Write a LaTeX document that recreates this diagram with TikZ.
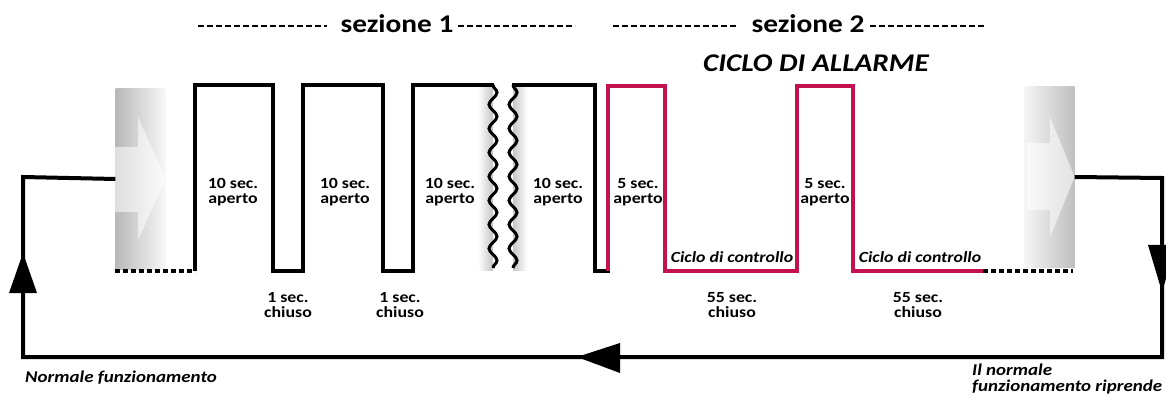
\documentclass[tikz,border=0pt]{standalone}
\usepackage{fontspec}
\setmainfont{Carlito}[FakeStretch=1.15]
\usepackage{tikz}
\usetikzlibrary{decorations.pathmorphing}
\definecolor{allarme}{RGB}{196,18,80}

\begin{document}
\begin{tikzpicture}[
    x=1pt, y=-1pt,
    onda/.style={line width=4pt, line join=miter},
    tratteggio/.style={line width=4pt, dash pattern=on 5pt off 3pt},
    intest/.style={line width=2.5pt, dash pattern=on 6pt off 3pt},
    lbl/.style={font=\fontsize{15.5}{15}\selectfont\bfseries, align=center, inner sep=0pt},
    head/.style={font=\fontsize{25.5}{28}\selectfont\bfseries, inner sep=0pt},
    nota/.style={font=\fontsize{16.5}{16}\selectfont\bfseries\itshape, inner sep=0pt, align=left},
    gradbox/.style={minimum width=50pt, minimum height=180pt, inner sep=0pt},
    rottura/.style={line width=3pt, decorate,
        decoration={snake, segment length=24pt, amplitude=4pt}}
]
\useasboundingbox (0,0) rectangle (1166,403);

% Blocchi sfumati con freccia
\node[gradbox, shade, left color=gray!55, right color=gray!6] (gl) at (140.5,179) {};
\node[gradbox, shade, left color=gray!8, right color=gray!50] (gr) at (1049.5,177) {};
\fill[white, opacity=.55] (115,147) -- (138,147) -- (138,117) -- (gl.east) -- (138,240) -- (138,212) -- (115,212) -- cycle;
\fill[white, opacity=.55] (1027,143) -- (1050,143) -- (1050,117) -- (gr.east) -- (1050,237) -- (1050,210) -- (1027,210) -- cycle;

% Ciclo esterno
\coordinate (rs) at (1162,178);
\coordinate (rb) at (1162,357);
\coordinate (lb) at (23,357);
\coordinate (ls) at (23,177);
\draw[line width=4pt, line join=miter] (gr.east) -- (rs) -- (rb) -- (lb) -- (ls) -- (gl.west);
\fill (23,253) -- (37,293) -- (9,293) -- cycle;
\fill (1162,292) -- (1176,245) -- (1148,245) -- cycle;
\fill (577,357) -- (620,343) -- (620,373) -- cycle;

% Ombra della rottura
\shade[left color=white, right color=gray!45] (478,85) rectangle (493,270);
\shade[left color=gray!45, right color=white] (513,85) rectangle (527,270);

% Sezione 1
\draw[tratteggio] (115,271) -- (195,271);
\draw[onda] (195,271) -- (195,85) -- (273,85) -- (273,271) -- (303,271) -- (303,85)
    -- (383,85) -- (383,271) -- (413,271) -- (413,85) -- (494,85);
\draw[onda] (512,85) -- (595,85) -- (595,271) -- (610,271);
\draw[rottura] (493,85) -- (493,268);
\draw[rottura] (513,85) -- (513,268);

% Sezione 2 (ciclo di allarme)
\draw[onda, allarme] (608,271) -- (608,86) -- (665,86) -- (665,271) -- (797,271) -- (797,86)
    -- (853,86) -- (853,271) -- (983,271);
\draw[tratteggio] (983,271) -- (1073,271);

% Etichette
\foreach \x in {233,345,450,558}
    \node[lbl] at (\x,192) {10 sec.\\aperto};
\foreach \x in {638,825}
    \node[lbl] at (\x,192) {5 sec.\\aperto};
\foreach \x in {288,400}
    \node[lbl] at (\x,305) {1 sec.\\chiuso};
\foreach \x in {732,918}
    \node[lbl] at (\x,305) {55 sec.\\chiuso};
\node[lbl, font=\fontsize{15.5}{15}\selectfont\bfseries\itshape, anchor=base] (c1) at (732,262) {Ciclo di controllo};
\node[lbl, font=\fontsize{15.5}{15}\selectfont\bfseries\itshape, anchor=base] (c2) at (920,262) {Ciclo di controllo};

% Intestazioni
\node[head, anchor=base] (s1) at (397,33) {sezione 1};
\node[head, anchor=base] (s2) at (808,33) {sezione 2};
\node[head, anchor=base, font=\fontsize{25.5}{28}\selectfont\bfseries\itshape] (allarme) at (816,72) {CICLO DI ALLARME};
\draw[intest] (198,26) -- (327,26);
\draw[intest] (458,26) -- (575,26);
\draw[intest] (613,26) -- (737,26);
\draw[intest] (870,26) -- (985,26);

% Note in basso
\node[nota, anchor=base west] (nf) at (25,382) {Normale funzionamento};
\node[nota, anchor=north west] (nr) at (972,364) {Il normale\\funzionamento riprende};
\end{tikzpicture}
\end{document}
